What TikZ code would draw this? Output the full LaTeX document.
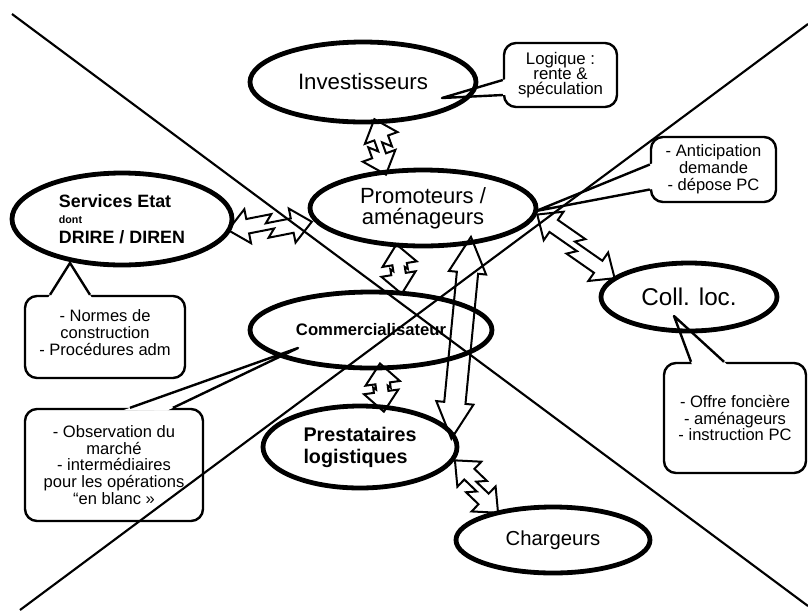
\documentclass[tikz,border=0pt]{standalone}
\usepackage{fontspec}
\setmainfont{Liberation Sans}
\usetikzlibrary{shapes.geometric,calc}
\pgfdeclarelayer{fond}
\pgfsetlayers{fond,main}

\tikzset{
  ell/.style={ellipse,draw,line width=3.6pt,inner sep=0pt,align=center},
  wh/.style 2 args={minimum width=#1*.75pt,minimum height=#2*.75pt},
  bulle/.style={draw,fill=white,line width=1.8pt,rounded corners=9pt,inner sep=0pt,align=center,
    font=\fontsize{12.4}{12.6}\selectfont},
  pointe/.style={line width=1.8pt,line join=round},
  fleche/.style={line width=1.5pt,line join=miter},
  diag/.style={line width=1.6pt}
}
% double fleche brisee : #1 decalage, #2 debord, de #3 vers #4
\def\fsw{5.5pt}\def\fhw{13pt}\def\fhl{15pt}
\newcommand\jpt[2]{($(\ja)+(\n1:#1)+(\n1+90:#2)$)}
\newcommand\jogarrow[4]{%
  \def\ja{#3}\def\jd{#1}\def\je{#2}%
  \draw[fleche] let \p1=($(#4)-(#3)$), \n1={atan2(\y1,\x1)}, \n2={veclen(\x1,\y1)} in
    \jpt{-\je}{.5*\jd}
    -- \jpt{-\je+\fhl}{.5*\jd+\fhw} -- \jpt{-\je+\fhl}{.5*\jd+\fsw}
    -- \jpt{.5*\n2+.45*\jd}{.5*\jd+\fsw} -- \jpt{.5*\n2-.45*\jd}{-.5*\jd+\fsw}
    -- \jpt{\n2+\je-\fhl}{-.5*\jd+\fsw} -- \jpt{\n2+\je-\fhl}{-.5*\jd+\fhw}
    -- \jpt{\n2+\je}{-.5*\jd}
    -- \jpt{\n2+\je-\fhl}{-.5*\jd-\fhw} -- \jpt{\n2+\je-\fhl}{-.5*\jd-\fsw}
    -- \jpt{.5*\n2-.45*\jd}{-.5*\jd-\fsw} -- \jpt{.5*\n2+.45*\jd}{.5*\jd-\fsw}
    -- \jpt{-\je+\fhl}{.5*\jd-\fsw} -- \jpt{-\je+\fhl}{.5*\jd-\fhw} -- cycle;}
% bulle : pointe de #1/#2 vers #3
\newcommand\pointe[3]{%
  \fill[white] ($(#1)!-5pt!(#3)$) -- (#3) -- ($(#2)!-5pt!(#3)$) -- cycle;
  \draw[pointe] (#1) -- (#3) -- (#2);}

\begin{document}
\begin{tikzpicture}[x=.75pt,y=-.75pt]
  \useasboundingbox (0,0) rectangle (808,612);
  % acteurs
  \node[ell,wh={226}{80},font=\fontsize{16.7}{20}\selectfont] (inv) at (363,82) {Investisseurs};
  \node[ell,wh={226}{76},font=\fontsize{16.5}{16}\selectfont] (prom) at (423,208) {Promoteurs /\\aménageurs};
  \node[ell,wh={220}{92},align=left,font=\bfseries\fontsize{13.4}{15}\selectfont] (serv) at (122,219)
    {Services Etat\\[-3pt]{\fontsize{8}{9}\selectfont dont}\\DRIRE / DIREN};
  \node[ell,wh={242}{76},font=\bfseries\fontsize{12.5}{15}\selectfont] (comm) at (371,330) {Commercialisateur};
  \node[ell,wh={194}{82},align=left,font=\bfseries\fontsize{14.8}{16.5}\selectfont] (prest) at (360,447) {Prestataires\\logistiques};
  \node[ell,wh={176}{68},font=\fontsize{18.2}{20}\selectfont] (coll) at (689,297) {Coll. loc.};
  \node[ell,wh={194}{66},font=\fontsize{15.2}{18}\selectfont] (charg) at (553,540) {Chargeurs};
  % bulles
  \begin{pgfonlayer}{fond}
    \node[bulle,wh={113}{64},font=\fontsize{12.6}{11.4}\selectfont] (logique) at (560.5,75) {Logique :\\rente \&\\spéculation};
    \node[bulle,wh={125}{65}] (antic) at (713.5,169.5) {- Anticipation\\demande\\- dépose PC};
    \node[bulle,wh={160}{82}] (normes) at (105,337) {- Normes de\\construction\\- Procédures adm\\[-6pt]\mbox{}};
    \node[bulle,wh={178}{112}] (obs) at (114,465) {- Observation du\\marché\\- intermédiaires\\pour les opérations\\“en blanc »};
    \node[bulle,wh={142}{110}] (offre) at (735,418) {- Offre foncière\\- aménageurs\\- instruction PC};
    \coordinate (lg1) at ($(logique.west)+(0,5)$);
    \coordinate (lg2) at ($(logique.west)+(0,20)$);
    \coordinate (lgtip) at ($(inv.center)+(79,16)$);
    \coordinate (an1) at ($(antic.west)+(0,-5)$);
    \coordinate (an2) at ($(antic.west)+(0,20)$);
    \coordinate (antip) at ($(prom.center)+(113,3)$);
    \coordinate (no1) at ($(normes.north)+(-55,0)$);
    \coordinate (no2) at ($(normes.north)+(-15,0)$);
    \coordinate (notip) at ($(serv.center)+(-52,44)$);
    \coordinate (ob1) at ($(obs.north)+(16,0)$);
    \coordinate (ob2) at ($(obs.north)+(59,0)$);
    \coordinate (obtip) at ($(comm.center)+(-73,18)$);
    \coordinate (of1) at ($(offre.north)+(-44,0)$);
    \coordinate (of2) at ($(offre.north)+(-11,0)$);
    \coordinate (oftip) at ($(coll.center)+(-15,19)$);
    \pointe{lg1}{lg2}{lgtip}
    \pointe{an1}{an2}{antip}
    \pointe{no1}{no2}{notip}
    \pointe{ob1}{ob2}{obtip}
    \pointe{of1}{of2}{oftip}
  \end{pgfonlayer}
  % relations
  \jogarrow{6pt}{3pt}{inv.-78}{prom.132}
  \jogarrow{6pt}{0pt}{serv.-8}{prom.185}
  \jogarrow{2pt}{2pt}{prom.-125}{comm.51}
  \jogarrow{2pt}{5pt}{comm.-78}{prest.60}
  \jogarrow{6pt}{0pt}{prom.-5}{coll.163}
  \jogarrow{6pt}{0pt}{prest.-10}{charg.150}
  {\def\fsw{8pt}\def\fhw{14pt}\def\fhl{27pt}
   \jogarrow{0pt}{6pt}{prom.-38}{prest.10}}
  % diagonales
  \draw[diag] (12,14) -- (808,606);
  \draw[diag] (20,610) -- (808,24);
\end{tikzpicture}
\end{document}
